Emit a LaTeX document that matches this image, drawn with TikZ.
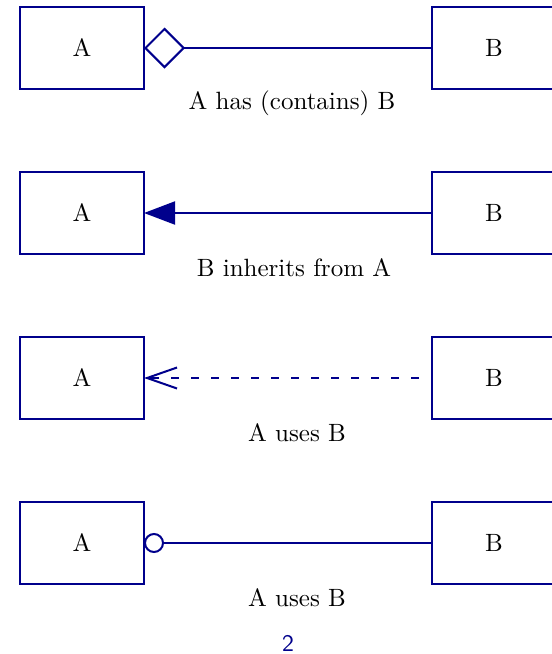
\documentclass[tikz,border=0pt]{standalone}
\usetikzlibrary{arrows.meta}
\definecolor{navy}{RGB}{0,0,140}
\begin{document}
\begin{tikzpicture}[x=0.4pt,y=-0.4pt,
  box/.style={draw=navy,line width=0.8pt,minimum width=49.6pt,minimum height=32.8pt,inner sep=0pt,text=black},
  conn/.style={draw=navy,line width=0.8pt},
  lbl/.style={text=black,inner sep=0pt}]
\useasboundingbox (0,0) rectangle (552,654);
% row 1
\node[box] (a1) at (82,48) {A};
\node[box] (b1) at (494,48) {B};
\draw[conn,{Diamond[open,length=16.4pt,width=16.4pt,sep=-0.4pt]}-] (a1) -- (b1);
\node[lbl] (l1) at (292,103) {A has (contains) B};
% row 2
\node[box] (a2) at (82,213) {A};
\node[box] (b2) at (494,213) {B};
\draw[conn,{Triangle[length=12.4pt,width=9.2pt,sep=-0.4pt]}-] (a2) -- (b2);
\node[lbl] (l2) at (294,268) {B inherits from A};
% row 3
\node[box] (a3) at (82,378) {A};
\node[box] (b3) at (494,378) {B};
\draw[conn,dash pattern=on 3.2pt off 4.8pt,dash phase=3.2pt,-{Straight Barb[length=12pt,width=8.4pt,sep=-0.4pt]}] (b3) -- (a3);
\node[lbl] (l3) at (297,433) {A uses B};
% row 4
\node[box] (a4) at (82,543) {A};
\node[box] (b4) at (494,543) {B};
\draw[conn,{Circle[open,length=8pt,width=8pt,sep=-0.4pt]}-] (a4) -- (b4);
\node[lbl] (l4) at (297,598) {A uses B};
% page number
\node[text=navy,inner sep=0pt,anchor=base,font=\sffamily\fontsize{9.5}{11}\selectfont] (pg) at (288,651) {2};
\end{tikzpicture}
\end{document}
